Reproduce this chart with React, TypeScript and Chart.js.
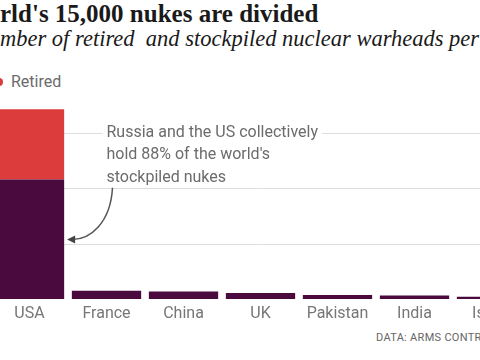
import React, { useEffect, useRef } from "react";
import { Chart, registerables } from "chart.js";

Chart.register(...registerables);

const categories = ["USA", "France", "China", "UK", "Pakistan", "India", "Israel"];
const stockpiled = [4310, 300, 270, 215, 140, 130, 80];
const retired = [2540, 0, 0, 0, 0, 0, 0];
const gridValues = [2000, 4000, 6000];
const titleHidden = "The wo";
const titleVisible = "rld's 15,000 nukes are divided";
const subtitleHidden = "Nu";
const subtitleVisible = "mber of retired  and stockpiled nuclear warheads per country";
const noteLines = ["Russia and the US collectively", "hold 88% of the world's", "stockpiled nukes"];
const source = "DATA: ARMS CONTROL ASSOCIATION";

const PURPLE = "#4a0a3e";
const RED = "#dc3c3c";
const SANS = "Roboto, 'Noto Sans', sans-serif";

const gridPlugin = {
  id: "manualGrid",
  beforeDatasetsDraw(chart: any) {
    const { ctx, chartArea, scales } = chart;
    const y = scales.y;
    ctx.save();
    ctx.strokeStyle = "#dedede";
    ctx.lineWidth = 1;
    gridValues.forEach((v) => {
      const py = Math.round(y.getPixelForValue(v)) + 0.5;
      ctx.beginPath();
      ctx.moveTo(chartArea.left, py);
      ctx.lineTo(chartArea.right, py);
      ctx.stroke();
    });
    ctx.restore();
  },
};

const notePlugin = {
  id: "note",
  afterDatasetsDraw(chart: any) {
    const { ctx, scales } = chart;
    const x = scales.x;
    const y = scales.y;
    const left = x.getPixelForValue(1);
    const top = y.getPixelForValue(6000);
    ctx.save();
    ctx.font = `16px ${SANS}`;
    ctx.textBaseline = "middle";
    noteLines.forEach((l, i) => {
      const yy = top + i * 22.5;
      const w = ctx.measureText(l).width;
      ctx.fillStyle = "#ffffff";
      ctx.fillRect(left - 4, yy - 9, w + 8, 15);
      ctx.fillStyle = "#6b6b6b";
      ctx.fillText(l, left, yy);
    });
    const bar = chart.getDatasetMeta(0).data[0];
    const sx = left + 6;
    const sy = top + 2 * 22.5 + 10;
    const ex = bar.x + bar.width / 2 + 3;
    const ey = y.getPixelForValue(2150);
    ctx.strokeStyle = "#555";
    ctx.lineWidth = 1.5;
    ctx.beginPath();
    ctx.moveTo(sx, sy);
    ctx.bezierCurveTo(sx - 2, sy + 35, sx - 22, ey, ex + 5, ey);
    ctx.stroke();
    ctx.fillStyle = "#444";
    ctx.beginPath();
    ctx.moveTo(ex, ey);
    ctx.lineTo(ex + 8, ey - 4);
    ctx.lineTo(ex + 8, ey + 4);
    ctx.closePath();
    ctx.fill();
    ctx.restore();
  },
};

export default function App() {
  const ref = useRef<HTMLCanvasElement>(null);
  useEffect(() => {
    if (!ref.current) return;
    const chart = new Chart(ref.current, {
      type: "bar",
      data: {
        labels: categories,
        datasets: [
          { label: "Stockpiled", data: stockpiled, backgroundColor: PURPLE, barPercentage: 0.9, categoryPercentage: 1 },
          { label: "Retired", data: retired, backgroundColor: RED, barPercentage: 0.9, categoryPercentage: 1 },
        ],
      },
      options: {
        responsive: false,
        animation: false,
        layout: { padding: { top: 105, left: 0, right: 0, bottom: 0 } },
        plugins: { legend: { display: false }, tooltip: { enabled: false } },
        scales: {
          x: {
            stacked: true,
            grid: { display: false, drawTicks: false },
            border: { display: false },
            ticks: { color: "#767676", font: { family: SANS, size: 16 }, padding: 5 },
            afterFit: (s: any) => {
              s.height = 28;
            },
          },
          y: {
            stacked: true,
            min: 0,
            max: 7000,
            display: false,
          },
        },
      },
      plugins: [gridPlugin, notePlugin],
    });
    return () => chart.destroy();
  }, []);

  return (
    <div style={{ position: "fixed", left: 0, top: 0, width: 480, height: 360, overflow: "hidden", background: "#fff" }}>
      <div style={{ position: "absolute", left: 0, top: 2, fontFamily: "'Liberation Serif', serif", fontWeight: 700, fontSize: 25, lineHeight: "24px", color: "#1a1a1a", whiteSpace: "pre" }}>
        <span style={{ position: "absolute", right: "100%" }}>{titleHidden}</span>
        {titleVisible}
      </div>
      <div style={{ position: "absolute", left: 0, top: 28, fontFamily: "'Liberation Serif', serif", fontStyle: "italic", fontSize: 22.5, lineHeight: "22px", color: "#1a1a1a", whiteSpace: "pre" }}>
        <span style={{ position: "absolute", right: "100%" }}>{subtitleHidden}</span>
        {subtitleVisible}
      </div>
      <div style={{ position: "absolute", left: -5, top: 74, display: "flex", alignItems: "center", fontFamily: SANS, fontSize: 16, lineHeight: "16px", color: "#6b6b6b", whiteSpace: "pre" }}>
        <span style={{ position: "absolute", right: "100%", display: "flex", alignItems: "center", paddingRight: 14 }}>
          <span style={{ width: 8, height: 8, borderRadius: 4, background: PURPLE, marginRight: 8 }} />
          Stockpiled
        </span>
        <span style={{ width: 8, height: 8, borderRadius: 4, background: RED, marginRight: 8 }} />
        Retired
      </div>
      <canvas ref={ref} width={539} height={327} style={{ position: "absolute", left: -9, top: 0, width: 539, height: 327 }} />
      <div style={{ position: "absolute", left: 376, top: 332, fontFamily: SANS, fontSize: 11, lineHeight: "12px", color: "#666", whiteSpace: "pre", letterSpacing: 0.3 }}>
        {source}
      </div>
    </div>
  );
}
